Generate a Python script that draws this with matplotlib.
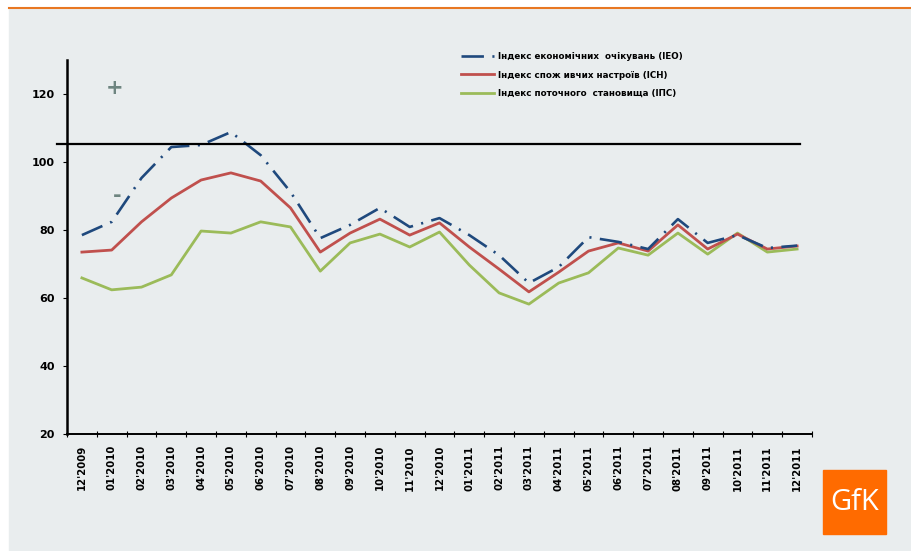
import matplotlib.pyplot as plt
import matplotlib.patches as mpatches
from matplotlib.lines import Line2D
import numpy as np

months = ["12'2009", "01'2010", "02'2010", "03'2010", "04'2010", "05'2010", "06'2010",
          "07'2010", "08'2010", "09'2010", "10'2010", "11'2010", "12'2010",
          "01'2011", "02'2011", "03'2011", "04'2011", "05'2011", "06'2011",
          "07'2011", "08'2011", "09'2011", "10'2011", "11'2011", "12'2011"]

ieo = [78.5, 82.4, 95.3, 104.4, 105.0, 108.8, 102.0, 91.2, 77.6, 81.5, 86.5, 80.9, 83.5,
       78.5, 72.6, 64.4, 69.1, 77.9, 76.5, 74.4, 83.2, 76.2, 78.5, 74.7, 75.4]
ich = [73.5, 74.1, 82.4, 89.4, 94.7, 96.8, 94.4, 86.5, 73.5, 79.1, 83.2, 78.5, 82.1,
       75.0, 68.5, 61.8, 67.6, 73.8, 76.2, 73.8, 81.5, 74.4, 78.8, 74.4, 75.3]
ips = [65.9, 62.4, 63.2, 66.8, 79.7, 79.1, 82.4, 80.9, 67.9, 76.2, 78.8, 75.0, 79.4,
       69.7, 61.5, 58.2, 64.4, 67.4, 74.7, 72.6, 79.1, 72.9, 79.1, 73.5, 74.4]

labels = ['Індекс економічних  очікувань (IEO)',
          'Індекс спож ивчих настроїв (ICH)',
          'Індекс поточного  становища (IПC)']
threshold = 105.3

bg = '#E9EDEE'
W, H = 912, 551
fig = plt.figure(figsize=(W / 100, H / 100), dpi=100, facecolor='white')

# grey slide panel + orange top rule
fig.patches.append(mpatches.Rectangle((9 / W, 0), 1 - 9 / W, 1 - 8 / H,
                                      transform=fig.transFigure, color=bg, zorder=-10))
fig.lines.append(Line2D([9 / W, 1], [1 - 7.5 / H] * 2, transform=fig.transFigure,
                        color='#E87722', lw=1.5))

ax = fig.add_axes([67 / W, 1 - 434 / H, (812 - 67) / W, (434 - 60) / H])
ax.set_facecolor(bg)

x = np.arange(len(months))
ax.plot(x, ieo, color='#1F497D', lw=1.9, dashes=(8.5, 3.2, 0.8, 3.2),
        solid_capstyle='butt', label=labels[0], zorder=4)
ax.plot(x, ich, color='#C0504D', lw=2.0, label=labels[1], zorder=3)
ax.plot(x, ips, color='#9BBB59', lw=2.0, label=labels[2], zorder=2)

ax.plot([-0.84, 24.1], [threshold, threshold], color='black', lw=1.6, clip_on=False, zorder=5)

ax.set_xlim(-0.5, len(months) - 0.5)
ax.set_ylim(20, 130)
ax.set_yticks([20, 40, 60, 80, 100, 120])
ax.set_xticks(x)
ax.set_xticklabels(months, rotation=90, fontsize=7.3, fontweight='bold')
ax.set_xticks(np.arange(-0.5, len(months), 1), minor=True)
ax.tick_params(axis='x', which='major', length=0, pad=8)
ax.tick_params(axis='x', which='minor', length=4, direction='inout', width=0.8)
ax.tick_params(axis='y', length=3, width=0.8, pad=6)
for t in ax.get_yticklabels():
    t.set_fontsize(8)
    t.set_fontweight('bold')

for s in ['top', 'right']:
    ax.spines[s].set_visible(False)
ax.spines['left'].set_linewidth(1.8)
ax.spines['bottom'].set_linewidth(1.4)

leg = ax.legend(loc='upper left', bbox_to_anchor=(453 / W, 1 - 44 / H),
                bbox_transform=fig.transFigure, frameon=False,
                prop={'size': 6.3, 'weight': 'bold'}, handlelength=3.8,
                handletextpad=0.4, labelspacing=1.1)

fig.text(115 / W, 1 - 88 / H, '+', color='#6E8580', fontsize=15, fontweight='bold',
         ha='center', va='center')
fig.text(117 / W, 1 - 196 / H, '-', color='#6E8580', fontsize=15, fontweight='bold',
         ha='center', va='center')

# GfK logo
fig.patches.append(mpatches.Rectangle((823 / W, 1 - 534 / H), 63 / W, 64 / H,
                                      transform=fig.transFigure, color='#FF6B00', zorder=5))
fig.text(854.5 / W, 1 - 502 / H, 'GfK', color='white', fontsize=21, ha='center',
         va='center', family='Open Sans', zorder=6)

fig.savefig('out.png', dpi=100, facecolor=fig.get_facecolor())
